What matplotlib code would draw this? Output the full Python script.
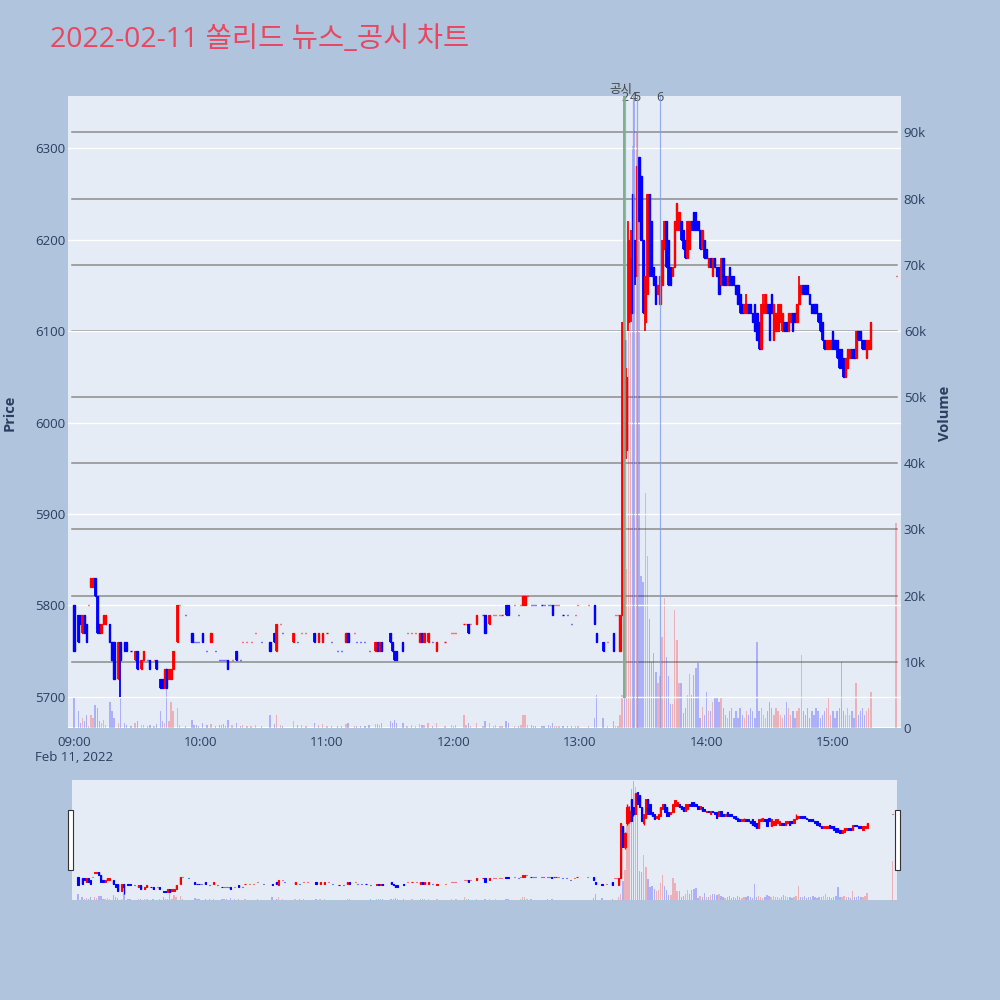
import matplotlib
matplotlib.use('Agg')
import matplotlib.pyplot as plt
from matplotlib.patches import Rectangle
import matplotlib.transforms as mtransforms

plt.rcParams['font.family'] = ['Open Sans', 'Noto Sans CJK KR', 'DejaVu Sans']

# ---------------- data (minute offset from 09:00) ----------------
minutes = [0, 2, 3, 4, 5, 6, 7, 8, 9, 10, 11, 12, 13, 14, 15, 17, 18, 19, 21, 22, 24, 25, 27, 29, 30,
           32, 33, 35, 36, 38, 39, 41, 42, 43, 44, 45, 46, 47, 49, 50, 53, 56, 57, 58, 59, 61, 63, 65, 67,
           69, 70, 71, 72, 73, 75, 77, 79, 80, 82, 84, 86, 89, 93, 95, 96, 98, 99, 104, 106, 108, 110,
           114, 116, 118, 120, 122, 125, 127, 129, 130, 133, 134, 136, 138, 140, 143, 144, 145, 146,
           150, 151, 152, 153, 156, 158, 160, 162, 164, 165, 166, 168, 170, 172, 176, 179, 180, 181,
           185, 186, 187, 188, 191, 194, 195, 197, 199, 200, 202, 203, 205, 206, 209, 211, 212, 213,
           214, 215, 217, 218, 219, 222, 223, 225, 226, 227, 228, 229, 230, 232, 234, 236, 238, 239,
           244, 247, 248, 251, 253, 256, 257, 258, 259,
           260, 261, 262, 263, 264, 265, 266, 267, 268, 269, 270, 271, 272, 273, 274, 275, 276, 277,
           278, 279, 280, 281, 282, 283, 284, 285, 286, 287, 288, 289, 290, 291, 292, 293, 294, 295,
           296, 297, 298, 299, 300, 301, 302, 303, 304, 305, 306, 307, 308, 309, 310, 311, 312, 313,
           314, 315, 316, 317, 318, 319, 320, 321, 322, 323, 324, 325, 326, 327, 328, 329, 330, 331,
           332, 333, 334, 335, 336, 337, 338, 339, 340, 341, 342, 343, 344, 345, 346, 347, 348, 349,
           350, 351, 352, 353, 354, 355, 356, 357, 358, 359, 360, 361, 362, 363, 364, 365, 366, 367,
           368, 369, 370, 371, 372, 373, 374, 375, 376, 377, 378, 390]

opens = [5800, 5790, 5790, 5770, 5790, 5780, 5800, 5820, 5820, 5830, 5810, 5780, 5770, 5780, 5780, 5780, 5760, 5760, 5720, 5760, 5760, 5760, 5750, 5740, 5750,
         5730, 5740, 5740, 5740, 5740, 5740, 5720, 5720, 5710, 5730, 5720, 5720, 5730, 5760, 5800, 5790, 5770, 5760, 5760, 5760, 5770, 5750, 5760, 5750,
         5740, 5740, 5740, 5740, 5740, 5740, 5750, 5740, 5760, 5760, 5760, 5770, 5760, 5760, 5770, 5750, 5780, 5770, 5760, 5760, 5770, 5770,
         5770, 5760, 5760, 5770, 5760, 5750, 5750, 5760, 5770, 5770, 5760, 5760, 5760, 5750, 5750, 5760, 5750, 5760,
         5770, 5760, 5750, 5750, 5760, 5770, 5770, 5770, 5760, 5770, 5760, 5760, 5760, 5750, 5760, 5770, 5770, 5770,
         5780, 5780, 5780, 5780, 5780, 5790, 5790, 5780, 5790, 5790, 5790, 5790, 5800, 5800, 5800, 5790, 5800, 5800,
         5800, 5810, 5800, 5800, 5800, 5800, 5800, 5800, 5800, 5800, 5800, 5800, 5800, 5790, 5790, 5780, 5790, 5800,
         5800, 5800, 5770, 5760, 5760, 5770, 5790, 5790, 5750,
         5790, 6090, 5970, 6110, 6120, 6250, 6200, 6160, 6290, 6270, 6200, 6110, 6140, 6250, 6220, 6170, 6160, 6140,
         6130, 6150, 6190, 6220, 6200, 6170, 6160, 6170, 6210, 6210, 6220, 6210, 6200, 6180, 6190, 6220, 6230, 6230,
         6220, 6210, 6190, 6200, 6190, 6170, 6180, 6160, 6180, 6170, 6170, 6150, 6180, 6160, 6150, 6170, 6160, 6160,
         6150, 6150, 6140, 6130, 6120, 6120, 6130, 6130, 6120, 6130, 6120, 6110, 6080, 6120, 6120, 6130, 6130, 6140,
         6090, 6100, 6100, 6110, 6100, 6110, 6110, 6100, 6110, 6120, 6120, 6110, 6130, 6140, 6150, 6150, 6150, 6140,
         6130, 6130, 6130, 6120, 6120, 6110, 6090, 6080, 6080, 6080, 6100, 6090, 6090, 6080, 6080, 6070, 6050, 6060,
         6070, 6080, 6080, 6070, 6100, 6100, 6090, 6090, 6070, 6080, 6080, 6160]

highs = [5800, 5790, 5790, 5790, 5790, 5780, 5800, 5830, 5830, 5830, 5810, 5780, 5780, 5790, 5790, 5780, 5760, 5760, 5760, 5760, 5760, 5760, 5750, 5750, 5750,
         5740, 5750, 5740, 5740, 5740, 5740, 5720, 5720, 5730, 5730, 5730, 5730, 5750, 5800, 5800, 5790, 5770, 5760, 5760, 5760, 5770, 5750, 5770, 5750,
         5740, 5740, 5740, 5740, 5740, 5740, 5750, 5740, 5760, 5760, 5760, 5770, 5760, 5760, 5770, 5780, 5780, 5770, 5770, 5760, 5770, 5770,
         5770, 5770, 5770, 5770, 5760, 5750, 5750, 5770, 5770, 5770, 5760, 5760, 5760, 5750, 5760, 5760, 5760, 5760,
         5770, 5760, 5750, 5750, 5760, 5770, 5770, 5770, 5770, 5770, 5770, 5770, 5760, 5760, 5760, 5770, 5770, 5770,
         5780, 5780, 5780, 5780, 5790, 5790, 5790, 5790, 5790, 5790, 5790, 5790, 5800, 5800, 5800, 5790, 5800, 5810,
         5810, 5810, 5800, 5800, 5800, 5800, 5800, 5800, 5800, 5800, 5800, 5800, 5800, 5790, 5790, 5780, 5790, 5800,
         5800, 5800, 5770, 5760, 5760, 5770, 5790, 5790, 5790,
         6110, 6090, 6060, 6220, 6210, 6250, 6200, 6280, 6290, 6270, 6200, 6160, 6250, 6250, 6220, 6170, 6160, 6150,
         6160, 6200, 6220, 6220, 6200, 6170, 6170, 6220, 6240, 6230, 6220, 6210, 6200, 6220, 6220, 6220, 6230, 6230,
         6220, 6210, 6210, 6200, 6190, 6180, 6180, 6180, 6180, 6170, 6170, 6180, 6180, 6160, 6160, 6170, 6160, 6160,
         6150, 6150, 6140, 6130, 6130, 6140, 6130, 6130, 6120, 6130, 6120, 6110, 6130, 6140, 6140, 6130, 6130, 6140,
         6130, 6120, 6130, 6130, 6120, 6110, 6110, 6120, 6120, 6120, 6120, 6130, 6160, 6150, 6150, 6150, 6150, 6140,
         6130, 6130, 6130, 6120, 6120, 6110, 6090, 6090, 6090, 6090, 6100, 6090, 6090, 6080, 6080, 6070, 6070, 6080,
         6080, 6080, 6080, 6100, 6100, 6100, 6090, 6090, 6090, 6090, 6110, 6160]

lows = [5750, 5760, 5780, 5770, 5770, 5760, 5800, 5820, 5820, 5810, 5770, 5770, 5770, 5780, 5780, 5760, 5740, 5720, 5720, 5700, 5750, 5750, 5750, 5740, 5730,
        5730, 5740, 5740, 5730, 5740, 5730, 5710, 5710, 5710, 5710, 5720, 5720, 5730, 5760, 5800, 5790, 5760, 5760, 5760, 5760, 5760, 5750, 5760, 5750,
        5740, 5740, 5740, 5740, 5730, 5740, 5740, 5740, 5760, 5760, 5760, 5770, 5760, 5750, 5760, 5750, 5780, 5770, 5760, 5760, 5770, 5770,
        5760, 5760, 5760, 5770, 5760, 5750, 5750, 5760, 5760, 5770, 5760, 5760, 5760, 5750, 5750, 5750, 5750, 5750,
        5760, 5750, 5740, 5740, 5750, 5770, 5770, 5770, 5760, 5760, 5760, 5760, 5760, 5750, 5760, 5770, 5770, 5770,
        5780, 5780, 5770, 5780, 5780, 5790, 5770, 5780, 5790, 5790, 5790, 5790, 5790, 5790, 5800, 5790, 5800, 5800,
        5800, 5810, 5800, 5800, 5800, 5800, 5800, 5800, 5800, 5790, 5800, 5800, 5800, 5790, 5790, 5780, 5790, 5800,
        5800, 5780, 5760, 5750, 5760, 5750, 5790, 5790, 5750,
        5790, 5970, 5960, 6100, 6110, 6120, 6150, 6160, 6220, 6200, 6120, 6100, 6140, 6160, 6160, 6150, 6130, 6140,
        6130, 6150, 6190, 6170, 6150, 6150, 6160, 6170, 6210, 6210, 6200, 6190, 6180, 6180, 6190, 6210, 6210, 6210,
        6210, 6190, 6190, 6180, 6180, 6170, 6170, 6160, 6170, 6160, 6140, 6150, 6150, 6150, 6150, 6150, 6150, 6150,
        6140, 6130, 6120, 6120, 6120, 6120, 6120, 6120, 6110, 6100, 6090, 6080, 6080, 6120, 6120, 6120, 6090, 6120,
        6090, 6100, 6100, 6110, 6100, 6100, 6100, 6100, 6110, 6100, 6110, 6110, 6130, 6140, 6140, 6140, 6140, 6130,
        6120, 6120, 6120, 6110, 6100, 6090, 6080, 6080, 6080, 6080, 6080, 6080, 6070, 6060, 6060, 6050, 6050, 6060,
        6070, 6070, 6070, 6070, 6090, 6090, 6080, 6080, 6070, 6080, 6080, 6160]

closes = [5750, 5760, 5780, 5790, 5770, 5760, 5800, 5830, 5830, 5810, 5770, 5770, 5780, 5790, 5790, 5760, 5740, 5720, 5760, 5740, 5750, 5750, 5750, 5750, 5730,
          5740, 5750, 5740, 5730, 5740, 5730, 5710, 5710, 5730, 5710, 5730, 5730, 5750, 5800, 5800, 5790, 5760, 5760, 5760, 5760, 5760, 5750, 5770, 5750,
          5740, 5740, 5740, 5740, 5730, 5740, 5740, 5740, 5760, 5760, 5760, 5770, 5760, 5750, 5760, 5780, 5780, 5770, 5770, 5760, 5770, 5770,
          5760, 5770, 5770, 5770, 5760, 5750, 5750, 5770, 5760, 5770, 5760, 5760, 5760, 5750, 5760, 5750, 5760, 5750,
          5760, 5750, 5740, 5740, 5750, 5770, 5770, 5770, 5770, 5760, 5770, 5770, 5760, 5760, 5760, 5770, 5770, 5770,
          5780, 5780, 5770, 5780, 5790, 5790, 5770, 5790, 5790, 5790, 5790, 5790, 5790, 5790, 5800, 5790, 5800, 5810,
          5810, 5810, 5800, 5800, 5800, 5800, 5800, 5800, 5800, 5790, 5800, 5800, 5800, 5790, 5790, 5780, 5790, 5800,
          5800, 5780, 5760, 5750, 5760, 5750, 5790, 5790, 5790,
          6110, 5970, 6050, 6200, 6180, 6120, 6160, 6280, 6220, 6200, 6120, 6160, 6250, 6160, 6160, 6150, 6130, 6150,
          6160, 6200, 6220, 6170, 6150, 6150, 6170, 6220, 6240, 6230, 6200, 6190, 6180, 6220, 6220, 6210, 6210, 6210,
          6210, 6190, 6210, 6180, 6180, 6180, 6170, 6180, 6170, 6160, 6140, 6180, 6150, 6150, 6160, 6150, 6150, 6150,
          6140, 6130, 6120, 6120, 6130, 6130, 6120, 6120, 6110, 6100, 6090, 6080, 6130, 6130, 6140, 6120, 6090, 6120,
          6130, 6120, 6130, 6130, 6120, 6100, 6100, 6120, 6120, 6100, 6110, 6130, 6150, 6150, 6140, 6140, 6140, 6130,
          6120, 6120, 6120, 6110, 6100, 6090, 6080, 6090, 6090, 6090, 6080, 6080, 6070, 6060, 6060, 6050, 6070, 6080,
          6080, 6070, 6070, 6100, 6090, 6090, 6080, 6080, 6090, 6090, 6110, 6160]

volumes = [4500, 2500, 800, 1500, 1000, 2000, 300, 2000, 1500, 3500, 3000, 1000, 800, 1200, 500, 4000, 2500, 1500, 800, 5000, 800, 500, 300, 800, 1000,
           500, 400, 300, 500, 300, 600, 2500, 1000, 800, 9000, 1000, 4000, 2500, 3000, 500, 300, 1200, 400, 500, 300, 800, 400, 600, 300,
           500, 400, 600, 300, 1200, 400, 800, 300, 400, 300, 300, 500, 300, 2000, 600, 2000, 500, 300, 1000, 400, 400, 300,
           800, 500, 600, 300, 300, 300, 300, 600, 800, 300, 300, 300, 300, 400, 600, 600, 500, 700,
           1000, 700, 1200, 800, 700, 300, 400, 300, 600, 500, 500, 700, 300, 800, 300, 500, 300, 400,
           2000, 500, 800, 300, 800, 300, 1000, 800, 300, 400, 300, 300, 1000, 800, 300, 300, 500, 2000,
           2000, 500, 500, 300, 300, 300, 300, 400, 300, 800, 300, 300, 300, 300, 300, 300, 300, 300,
           300, 1500, 5000, 1500, 300, 1000, 300, 300, 2000,
           5000, 15000, 24000, 60000, 75000, 88000, 95000, 90000, 83000, 23000, 22000, 35500, 26000, 16500, 10000, 11300, 8500, 6800,
           7800, 13700, 19700, 10800, 7800, 3600, 3600, 17800, 13300, 6800, 6800, 2200, 3000, 5000, 8200, 5000, 8000, 9000,
           9800, 1500, 3200, 2000, 5400, 2500, 2500, 4000, 4600, 4600, 4000, 4600, 3000, 2000, 1500, 2500, 3000, 1500,
           2500, 1500, 3000, 2000, 1500, 2500, 2000, 3000, 2500, 1500, 13000, 2500, 3000, 2000, 1500, 2500, 4000, 3000,
           2000, 3000, 2500, 2000, 1500, 2000, 4000, 3000, 2000, 2500, 1500, 2500, 3000, 11000, 2500, 2000, 3000, 1500,
           2500, 2000, 3000, 2500, 1500, 2000, 2500, 3000, 4500, 2000, 2500, 1500, 2500, 3000, 10000, 2500, 2000, 3000,
           2000, 2500, 1500, 6800, 2000, 2500, 3000, 2000, 2500, 3000, 5400, 31000]

news_minutes = [260.9, 261.5, 265.2, 267.1, 277.8]
news_labels = ['공시', '2', '4', '5', '6']

xtick_minutes = [0, 60, 120, 180, 240, 300, 360]
xtick_labels = ['09:00', '10:00', '11:00', '12:00', '13:00', '14:00', '15:00']
price_ticks = [5700, 5800, 5900, 6000, 6100, 6200, 6300]
vol_ticks = [0, 10000, 20000, 30000, 40000, 50000, 60000, 70000, 80000, 90000]
vol_tick_labels = ['0', '10k', '20k', '30k', '40k', '50k', '60k', '70k', '80k', '90k']

TITLE = '2022-02-11 쏠리드 뉴스_공시 차트'

# ---------------- style ----------------
BG = '#B0C4DE'
PLOT_BG = '#E5ECF6'
INC = '#FF0000'
DEC = '#0000FF'
TXT = '#2a3f5f'
XLIM = (-2.85, 392.3)
PLIM = (5666, 6357)
VLIM = (0, 95500)

# direction (plotly rule: equal open/close -> compare to previous close)
colors = []
prev_c = None
prev_dir = DEC
for o, c in zip(opens, closes):
    if c > o:
        d = INC
    elif c < o:
        d = DEC
    else:
        if prev_c is not None and c > prev_c:
            d = INC
        elif prev_c is not None and c < prev_c:
            d = DEC
        else:
            d = prev_dir
    colors.append(d)
    prev_c = c
    prev_dir = d

fig = plt.figure(figsize=(10, 10), dpi=100)
fig.patch.set_facecolor(BG)


def make_axes(rect):
    axp = fig.add_axes(rect)
    axv = axp.twinx()
    axp.set_zorder(2)
    axv.set_zorder(1)
    axp.patch.set_visible(False)
    axv.patch.set_visible(True)
    axv.patch.set_facecolor(PLOT_BG)
    for a in (axp, axv):
        for s in a.spines.values():
            s.set_visible(False)
        a.set_xlim(*XLIM)
    axp.set_ylim(*PLIM)
    axv.set_ylim(*VLIM)
    return axp, axv


def draw(axp, axv, body_w, wick_lw, edge_lw, vol_w):
    for m, o, h, l, c, v, col in zip(minutes, opens, highs, lows, closes, volumes, colors):
        axv.bar(m, v, width=vol_w, color=col, alpha=0.25, linewidth=0, zorder=2)
        axp.vlines(m, l, h, color=col, lw=wick_lw, zorder=3)
        axp.add_patch(Rectangle((m - body_w / 2, min(o, c)), body_w, abs(c - o),
                                facecolor=col, edgecolor=col, lw=edge_lw, zorder=3))


# ---------------- main chart ----------------
ax, axv = make_axes([0.068, 0.272, 0.833, 0.632])
# gridlines
for p in price_ticks:
    ax.axhline(p, color='white', lw=1.0, zorder=0)
for v in vol_ticks[1:]:
    axv.axhline(v, xmin=4 / 833, xmax=829 / 833, color='#8c8c8c', lw=1.1, zorder=1)
axv.axhline(0, color='white', lw=1.5, zorder=1)

draw(ax, axv, body_w=0.55, wick_lw=1.3, edge_lw=1.0, vol_w=0.65)

# news lines
trans = mtransforms.blended_transform_factory(ax.transData, ax.transAxes)
y5700 = (5700 - PLIM[0]) / (PLIM[1] - PLIM[0])
for i, (m, lab) in enumerate(zip(news_minutes, news_labels)):
    if i == 0:
        ax.plot([m, m], [y5700, 1], transform=trans, color='#7fb07f', lw=1.4, zorder=4)
        ax.text(m - 1.5, 1.011, lab, transform=trans, ha='center', va='center',
                fontsize=9, color='#444444', clip_on=False)
    else:
        y0 = y5700 if i == 1 else 0
        ax.plot([m, m], [y0, 1], transform=trans, color='#7f9ef0', lw=0.9, alpha=0.8, zorder=4)
        ax.text(m, 0.998, lab, transform=trans, ha='center', va='center',
                fontsize=9, color='#444444', clip_on=False)

ax.set_yticks(price_ticks)
ax.set_yticklabels([str(p) for p in price_ticks])
ax.tick_params(axis='y', length=0, pad=2, labelsize=9.5, labelcolor=TXT)
axv.set_yticks(vol_ticks)
axv.set_yticklabels(vol_tick_labels)
axv.tick_params(axis='y', length=0, pad=2, labelsize=9.5, labelcolor=TXT)
ax.set_xticks(xtick_minutes)
ax.set_xticklabels(xtick_labels)
ax.tick_params(axis='x', length=0, pad=6, labelsize=9.5, labelcolor=TXT)
axv.tick_params(axis='x', length=0, labelbottom=False)
ax.text(0, -0.047, 'Feb 11, 2022', transform=trans, ha='center', va='center',
        fontsize=9.5, color=TXT)

fig.text(0.010, 0.587, 'Price', rotation=90, ha='center', va='center',
         fontsize=10.5, fontweight='bold', color=TXT)
fig.text(0.945, 0.587, 'Volume', rotation=90, ha='center', va='center',
         fontsize=10.5, fontweight='bold', color=TXT)

fig.text(0.050, 0.960, TITLE, ha='left', va='center', fontsize=20.5, color='#E8475F')

# ---------------- range slider ----------------
sp, sv = make_axes([0.072, 0.100, 0.825, 0.120])
draw(sp, sv, body_w=0.55, wick_lw=1.0, edge_lw=0.8, vol_w=0.65)
for a in (sp, sv):
    a.set_xticks([])
    a.set_yticks([])
for xl in (0.068, 0.895):
    fig.patches.append(Rectangle((xl, 0.130), 0.005, 0.060, transform=fig.transFigure,
                                 facecolor='white', edgecolor='#333333', lw=0.8))

fig.savefig('out.png', dpi=100, facecolor=BG)
